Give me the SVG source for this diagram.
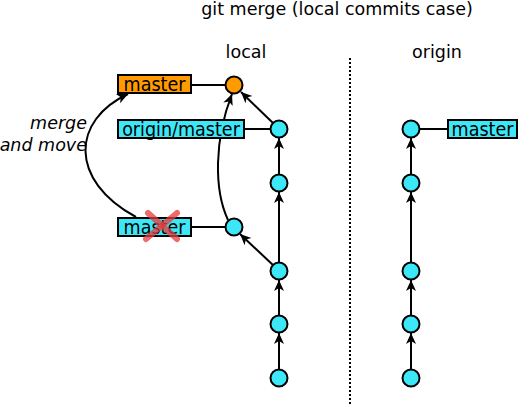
<svg xmlns="http://www.w3.org/2000/svg" width="520" height="406" viewBox="0 0 520 406">
<style>
text{font-family:"DejaVu Sans",sans-serif;font-size:17.5px;fill:#000}
.bl{font-family:"DejaVu Sans Condensed","DejaVu Sans",sans-serif;font-stretch:condensed;font-size:19.5px}
.c{fill:#3ce8f8;stroke:#000;stroke-width:2}
.o{fill:#ff9a00;stroke:#000;stroke-width:2}
.l{fill:none;stroke:#000;stroke-width:2}
.a{fill:none;stroke:#000;stroke-width:2;marker-end:url(#ah)}
.x{stroke:#e53b3b;stroke-opacity:0.75;stroke-width:6;stroke-linecap:round}
</style>
<defs>
<marker id="ah" markerUnits="userSpaceOnUse" markerWidth="14" markerHeight="14" viewBox="-12 -6 14 12" refX="0" refY="0" orient="auto">
<path d="M0,0 L-11,-5 L-8,0 L-11,5 Z" fill="#000"/>
</marker>
</defs>
<text x="337" y="15" text-anchor="middle">git merge (local commits case)</text>
<text x="246" y="58" text-anchor="middle">local</text>
<text x="437" y="58" text-anchor="middle">origin</text>
<line x1="350" y1="58" x2="350" y2="404" stroke="#000" stroke-width="2" stroke-dasharray="2,2"/>
<text x="87" y="129" text-anchor="end" font-style="italic">merge</text>
<text x="87" y="151" text-anchor="end" font-style="italic">and move</text>
<g id="connectors">
<line class="l" x1="191" y1="85" x2="226" y2="85"/>
<line class="l" x1="244" y1="129" x2="271" y2="129"/>
<line class="l" x1="191" y1="227" x2="226" y2="227"/>
<line class="l" x1="419" y1="129" x2="448" y2="129"/>
<line class="a" x1="279" y1="369" x2="279" y2="333"/>
<line class="a" x1="279" y1="315" x2="279" y2="280"/>
<line class="a" x1="279" y1="262" x2="279" y2="192"/>
<line class="a" x1="279" y1="174" x2="279" y2="138"/>
<line class="a" x1="273" y1="123" x2="241" y2="92"/>
<line class="a" x1="273" y1="265" x2="240" y2="234"/>
<path class="a" d="M228,220 C214,190 214,140 232,94"/>
<path class="a" d="M136,217 C68,180 72,120 128,94"/>
<line class="a" x1="411" y1="369" x2="411" y2="333"/>
<line class="a" x1="411" y1="315" x2="411" y2="280"/>
<line class="a" x1="411" y1="262" x2="411" y2="192"/>
<line class="a" x1="411" y1="174" x2="411" y2="138"/>
</g>
<g id="master-local"><rect class="o" x="118" y="75" width="73" height="18"/><text class="bl" x="154.5" y="91" text-anchor="middle">master</text></g>
<g id="origin-master-local"><rect class="c" x="118" y="120" width="126" height="18"/><text class="bl" x="181" y="136" text-anchor="middle">origin/master</text></g>
<g id="master-old"><rect class="c" x="118" y="218" width="73" height="18"/><text class="bl" x="154.5" y="234" text-anchor="middle">master</text>
<line class="x" x1="148" y1="213" x2="177" y2="239"/><line class="x" x1="177" y1="213" x2="146" y2="239"/></g>
<g id="master-origin"><rect class="c" x="448" y="120" width="69" height="18"/><text class="bl" x="482.5" y="136" text-anchor="middle">master</text></g>
<g id="merge"><circle class="o" cx="234" cy="85" r="8.5"/></g>
<g id="L1"><circle class="c" cx="279" cy="129" r="8.5"/></g>
<g id="L2"><circle class="c" cx="279" cy="183" r="8.5"/></g>
<g id="L3"><circle class="c" cx="279" cy="271" r="8.5"/></g>
<g id="L4"><circle class="c" cx="279" cy="324" r="8.5"/></g>
<g id="L5"><circle class="c" cx="279" cy="378" r="8.5"/></g>
<g id="Lc"><circle class="c" cx="234" cy="227" r="8.5"/></g>
<g id="O1"><circle class="c" cx="411" cy="129" r="8.5"/></g>
<g id="O2"><circle class="c" cx="411" cy="183" r="8.5"/></g>
<g id="O3"><circle class="c" cx="411" cy="271" r="8.5"/></g>
<g id="O4"><circle class="c" cx="411" cy="324" r="8.5"/></g>
<g id="O5"><circle class="c" cx="411" cy="378" r="8.5"/></g>
</svg>
